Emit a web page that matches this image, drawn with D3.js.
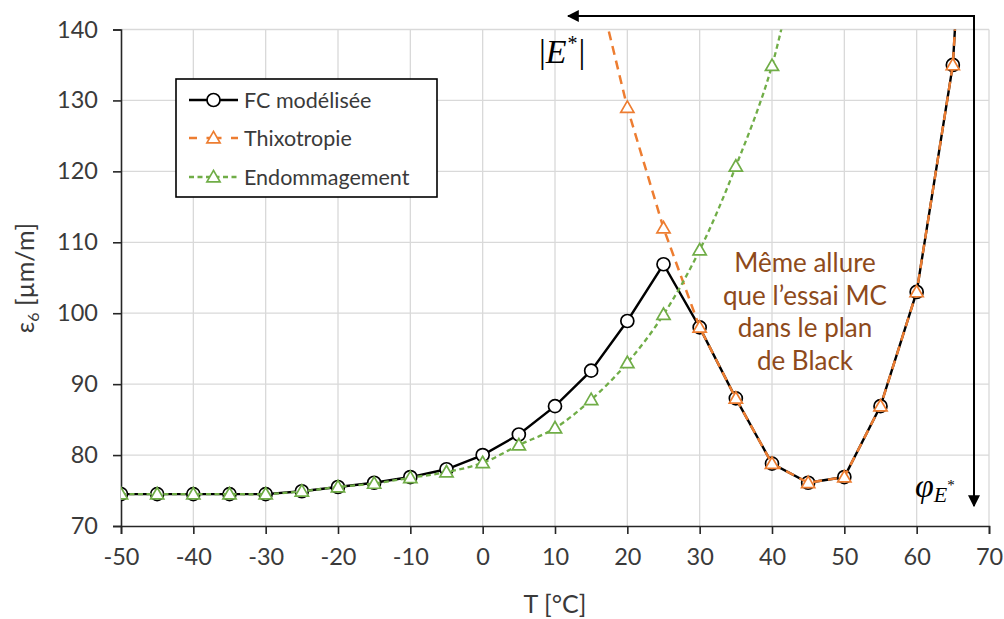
<!DOCTYPE html>
<html><head><meta charset="utf-8">
<script src="https://cdn.jsdelivr.net/npm/d3@7"></script>
<style>
html,body{margin:0;padding:0;background:#fff;}
svg{display:block;}
</style></head>
<body>
<svg id="chart" width="1004" height="619"></svg>
<script>
// ---- data ----
const temps = [-50,-45,-40,-35,-30,-25,-20,-15,-10,-5,0,5,10,15,20,25,30,35,40,45,50,55,60,65,70];
const fcValues = [74.5,74.5,74.5,74.5,74.5,74.9,75.5,76.1,76.9,78,80,82.9,86.9,91.9,98.9,106.9,98,88,78.8,76.1,76.9,86.9,103,135,222];
const thixoTemps = [15,20,25,30,35,40,45,50,55,60,65,70];
const thixoValues = [150,129,112,98,88,78.8,76.1,76.9,86.9,103,135,222];
const endoTemps = [-50,-45,-40,-35,-30,-25,-20,-15,-10,-5,0,5,10,15,20,25,30,35,40,45];
const endoValues = [74.5,74.5,74.5,74.5,74.5,74.9,75.5,76,76.8,77.6,78.9,81.4,83.8,87.8,93,99.8,108.9,120.7,134.9,158];
const markerTempsFC = temps.slice(0,24);
const markerTempsThixo = thixoTemps.slice(1,11);
const markerTempsEndo = endoTemps.slice(0,19);
const xTicks = [-50,-40,-30,-20,-10,0,10,20,30,40,50,60,70];
const yTicks = [70,80,90,100,110,120,130,140];
const seriesNames = ["FC modélisée","Thixotropie","Endommagement"];
const annotationLines = ["Même allure","que l’essai MC","dans le plan","de Black"];

const svg = d3.select("#chart");
const x = d3.scaleLinear().domain([-50,70]).range([121,989]);
const y = d3.scaleLinear().domain([70,140]).range([526,29.5]);
const font = "Lato, 'Open Sans', sans-serif";
const txt = "#3a3a3a";

// grid
const grid = svg.append("g");
grid.selectAll("line.v").data(xTicks.slice(1)).enter().append("line")
  .attr("x1",d=>x(d)).attr("x2",d=>x(d)).attr("y1",y(70)).attr("y2",y(140))
  .attr("stroke","#d9d9d9").attr("stroke-width",1.3);
grid.selectAll("line.h").data(yTicks.slice(1)).enter().append("line")
  .attr("y1",d=>y(d)).attr("y2",d=>y(d)).attr("x1",x(-50)).attr("x2",x(70))
  .attr("stroke","#d9d9d9").attr("stroke-width",1.3);

// axes
const xAxis = svg.append("g").attr("transform",`translate(0,${y(70)})`)
  .call(d3.axisBottom(x).tickValues(xTicks).tickSize(8).tickPadding(14).tickFormat(d3.format("d")));
const yAxis = svg.append("g").attr("transform",`translate(${x(-50)},0)`)
  .call(d3.axisLeft(y).tickValues(yTicks).tickSize(8).tickPadding(15));
[xAxis,yAxis].forEach(a=>{
  a.select(".domain").attr("stroke","#262626").attr("stroke-width",1.6);
  a.selectAll(".tick line").attr("stroke","#262626").attr("stroke-width",1.6);
  a.selectAll(".tick text").attr("font-family",font).attr("font-size",23.5).attr("fill",txt);
});
xAxis.selectAll(".tick text").text(d=>d<0?"-"+Math.abs(d):d);

// axis titles
svg.append("text").attr("x",555).attr("y",613).attr("text-anchor","middle")
  .attr("font-family",font).attr("font-size",25).attr("fill",txt).text("T [°C]");
const yt = svg.append("text").attr("transform","translate(34,278) rotate(-90)").attr("text-anchor","middle")
  .attr("font-family",font).attr("font-size",25).attr("fill",txt);
yt.append("tspan").text("ε");
yt.append("tspan").attr("font-size",16).attr("dy",5).text("6");
yt.append("tspan").attr("dy",-5).text(" [µm/m]");

// clip
svg.append("clipPath").attr("id","clip").append("rect")
  .attr("x",x(-50)).attr("y",y(140)).attr("width",x(70)-x(-50)).attr("height",y(70)-y(140));

const plot = svg.append("g").attr("clip-path","url(#clip)");
const lineLin = d3.line().x(d=>x(d[0])).y(d=>y(d[1]));
const lineSmooth = d3.line().x(d=>x(d[0])).y(d=>y(d[1])).curve(d3.curveCatmullRom.alpha(0.5));

const fc = temps.map((t,i)=>[t,fcValues[i]]);
const th = thixoTemps.map((t,i)=>[t,thixoValues[i]]);
const en = endoTemps.map((t,i)=>[t,endoValues[i]]);

const cBlack="#000000", cOrange="#ED7D31", cGreen="#70AD47";
const tri = d3.symbol().type(d3.symbolTriangle).size(75);

// FC
plot.append("path").attr("d",lineLin(fc)).attr("fill","none").attr("stroke",cBlack).attr("stroke-width",2.4);
plot.selectAll("circle.fc").data(fc.filter(d=>markerTempsFC.includes(d[0]))).enter().append("circle")
  .attr("cx",d=>x(d[0])).attr("cy",d=>y(d[1])).attr("r",6.5)
  .attr("fill","#fff").attr("stroke",cBlack).attr("stroke-width",1.7);
// Thixotropie
plot.append("path").attr("d",lineLin(th)).attr("fill","none").attr("stroke",cOrange).attr("stroke-width",2.5)
  .attr("stroke-dasharray","9,6");
plot.selectAll("path.th").data(th.filter(d=>markerTempsThixo.includes(d[0]))).enter().append("path")
  .attr("d",tri).attr("transform",d=>`translate(${x(d[0])},${y(d[1])+1})`)
  .attr("fill","#fff").attr("stroke",cOrange).attr("stroke-width",1.7);
// Endommagement
plot.append("path").attr("d",lineSmooth(en)).attr("fill","none").attr("stroke",cGreen).attr("stroke-width",2.3)
  .attr("stroke-dasharray","5,3.5");
plot.selectAll("path.en").data(en.filter(d=>markerTempsEndo.includes(d[0]))).enter().append("path")
  .attr("d",tri).attr("transform",d=>`translate(${x(d[0])},${y(d[1])+1})`)
  .attr("fill","#fff").attr("stroke",cGreen).attr("stroke-width",1.7);

// legend
const lg = svg.append("g");
lg.append("rect").attr("x",176).attr("y",79).attr("width",261).attr("height",118)
  .attr("fill","#fff").attr("stroke","#000").attr("stroke-width",1.6);
const legY = [100,138,177];
const legStyles = [
  {c:cBlack,dash:null,w:2.4,m:"circle"},
  {c:cOrange,dash:"9,6",w:2.5,m:"tri"},
  {c:cGreen,dash:"5,3.5",w:2.3,m:"tri"}];
seriesNames.forEach((n,i)=>{
  const s = legStyles[i], yy = legY[i];
  const l = lg.append("line").attr("x1",189).attr("x2",238).attr("y1",yy).attr("y2",yy)
    .attr("stroke",s.c).attr("stroke-width",s.w);
  if(s.dash) l.attr("stroke-dasharray", i===1 ? "8,9.5,15,9.5,8" : "5,3.5");
  if(s.m==="circle") lg.append("circle").attr("cx",213.5).attr("cy",yy).attr("r",6.5)
    .attr("fill","#fff").attr("stroke",s.c).attr("stroke-width",1.7);
  else lg.append("path").attr("d",tri).attr("transform",`translate(213.5,${yy+1})`)
    .attr("fill","#fff").attr("stroke",s.c).attr("stroke-width",1.7);
  lg.append("text").attr("x",244).attr("y",yy+7.5).attr("font-family",font).attr("font-size",21.5)
    .attr("fill",txt).text(n);
});

// annotation text
const ann = svg.append("text").attr("text-anchor","middle").attr("font-family",font)
  .attr("font-size",26).attr("fill","#8E4A1B");
annotationLines.forEach((t,i)=>ann.append("tspan").attr("x",805).attr("y",272+i*32.5).text(t));

// arrows
const defs = svg.append("defs");
defs.append("marker").attr("id","ah").attr("viewBox","0 0 10 10").attr("refX",9).attr("refY",5)
  .attr("markerWidth",12).attr("markerHeight",12).attr("markerUnits","userSpaceOnUse").attr("orient","auto")
  .append("path").attr("d","M0,0L10,5L0,10z").attr("fill","#000");
svg.append("line").attr("x1",974).attr("y1",16).attr("x2",568).attr("y2",16)
  .attr("stroke","#000").attr("stroke-width",2).attr("marker-end","url(#ah)");
svg.append("line").attr("x1",974).attr("y1",15).attr("x2",974).attr("y2",506)
  .attr("stroke","#000").attr("stroke-width",2).attr("marker-end","url(#ah)");

// math labels
const serif = "'Liberation Serif','DejaVu Serif',serif";
const e1 = svg.append("text").attr("x",539).attr("y",63).attr("font-family",serif).attr("font-size",34).attr("fill","#000");
e1.append("tspan").text("|");
e1.append("tspan").attr("font-style","italic").text("E");
e1.append("tspan").attr("font-size",20).attr("dy",-13).attr("dx",1).text("*");
e1.append("tspan").attr("dy",13).attr("dx",1).text("|");
const e2 = svg.append("text").attr("x",915).attr("y",497).attr("font-family",serif).attr("font-size",34).attr("fill","#000");
e2.append("tspan").attr("font-style","italic").text("φ");
e2.append("tspan").attr("font-style","italic").attr("font-size",22).attr("dy",5).text("E");
e2.append("tspan").attr("font-size",15).attr("dy",-12).text("*");
</script>
</body></html>
